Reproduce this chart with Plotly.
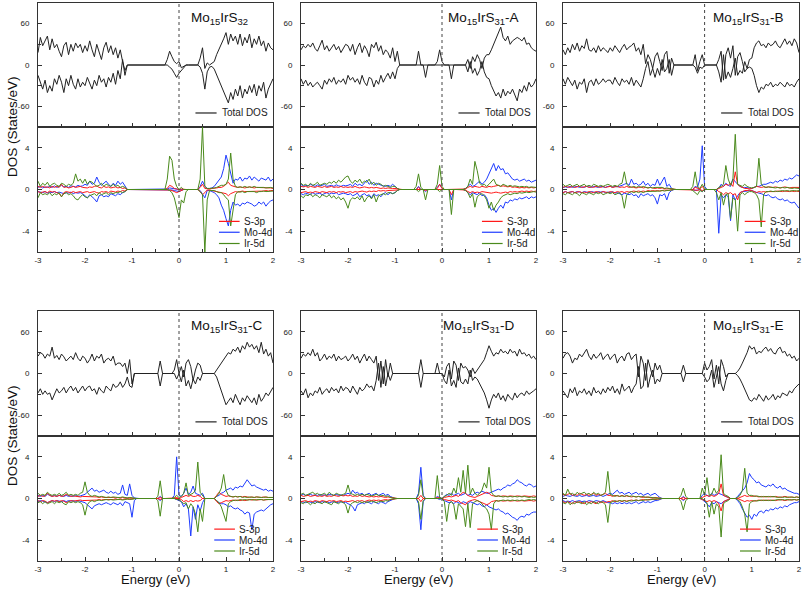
import plotly.graph_objects as go

# Energy grid (eV)
E = [round(-3 + 0.05 * i, 2) for i in range(101)]

titles = ["Mo<sub>15</sub>IrS<sub>32</sub>", "Mo<sub>15</sub>IrS<sub>31</sub>-A", "Mo<sub>15</sub>IrS<sub>31</sub>-B",
          "Mo<sub>15</sub>IrS<sub>31</sub>-C", "Mo<sub>15</sub>IrS<sub>31</sub>-D", "Mo<sub>15</sub>IrS<sub>31</sub>-E"]
x_ticks = [-3, -2, -1, 0, 1, 2]
top_ticks = [-60, 0, 60]
bot_ticks = [-4, 0, 4]

# ---------------- Panel 1: Mo15IrS32 ----------------
U1 = [18,40,28,35,42,22,38,25,30,20,12,28,33,15,30,20,32,25,30,18,
      28,20,35,22,12,30,20,8,25,33,18,28,15,25,10,22,5,-8,0,0,
      0,0,0,0,0,0,0,0,0,0,0,0,0,0,0,8,20,12,5,2,
      5,-4,-2,0,0,0,0,0,0,10,25,-5,3,0,2,5,15,22,30,38,
      47,30,45,35,42,30,45,28,40,32,45,25,38,30,42,28,35,20,32,25,22]
D1 = [-15,-25,-35,-22,-40,-30,-38,-20,-28,-15,-25,-40,-20,-30,-15,-28,-35,-20,-32,-25,
      -30,-18,-28,-35,-22,-30,-15,-25,-20,-32,-18,-25,-12,-28,-8,-20,8,-15,0,0,
      0,0,0,0,0,0,0,0,0,0,0,0,0,0,0,0,-3,-6,-12,-18,
      -12,-8,-3,0,0,0,0,0,0,-3,-12,-35,-10,-3,-2,-6,-14,-22,-30,-38,
      -48,-55,-40,-50,-35,-45,-30,-48,-35,-42,-30,-40,-28,-45,-30,-38,-25,-48,-35,-28,-20]
SU1 = [0.3,0.2,0.3,0.2,0.25,0.15,0.3,0.2,0.3,0.2,0.5,0.2,0.25,0.15,0.2,0.3,0.2,0.25,0.3,0.2,
       0.2,0.15,0.25,0.2,0.3,0.35,0.2,0.15,0.3,0.2,0.25,0.15,0.2,0.25,0.15,0.2,0.1,0.15,0,0,
       0,0,0,0,0,0,0,0,0,0,0,0,0,0,0,0.1,0.4,0.3,0.1,0.05,
       0,0.05,0,0,0,0,0,0,0,0.2,0.5,0.1,0.05,0.05,0.1,0.1,0.15,0.2,0.2,0.3,
       0.5,0.7,0.4,0.3,0.25,0.2,0.25,0.2,0.15,0.2,0.25,0.2,0.15,0.2,0.2,0.15,0.2,0.15,0.2,0.15,0.1]
SD1 = [-0.2,-0.3,-0.25,-0.2,-0.3,-0.15,-0.25,-0.2,-0.3,-0.4,-0.7,-0.3,-0.2,-0.25,-0.3,-0.2,-0.3,-0.25,-0.2,-0.3,
       -0.25,-0.2,-0.3,-0.25,-0.2,-0.3,-0.35,-0.2,-0.25,-0.2,-0.3,-0.15,-0.2,-0.25,-0.15,-0.2,-0.1,-0.15,0,0,
       0,0,0,0,0,0,0,0,0,0,0,0,0,0,0,0,-0.05,-0.1,-0.2,-0.3,
       -0.2,-0.1,0,0,0,0,0,0,0,-0.2,-0.5,-0.3,-0.05,-0.05,-0.1,-0.1,-0.15,-0.2,-0.25,-0.3,
       -0.4,-0.6,-0.4,-0.3,-0.2,-0.25,-0.2,-0.15,-0.2,-0.2,-0.15,-0.2,-0.15,-0.2,-0.15,-0.2,-0.15,-0.1,-0.15,-0.1,-0.1]
MU1 = [0.2,0.3,0.15,0.25,0.2,0.3,0.2,0.35,0.2,0.3,0.4,0.25,0.3,0.2,0.35,0.3,0.25,0.4,0.3,0.35,
       0.5,0.4,0.8,0.5,0.6,1.2,0.7,0.4,0.6,0.8,0.5,0.3,0.6,0.4,0.8,0.5,0.7,0.3,0,0,
       0,0,0,0,0,0,0,0,0,0,0,0,0,0,0,0.05,0.15,0.1,0.05,0.05,
       0,0,0,0,0,0,0,0,0,0.3,0.8,0.3,0.1,0.1,0.15,0.3,0.6,0.8,1.2,2.0,
       3.3,2.5,1.5,0.6,1.0,0.9,1.2,0.8,1.1,1.0,1.3,0.9,1.2,1.0,0.8,1.1,1.0,0.9,1.2,0.8,1.0]
MD1 = [-0.2,-0.25,-0.3,-0.2,-0.35,-0.25,-0.3,-0.2,-0.3,-0.25,-0.3,-0.4,-0.3,-0.35,-0.25,-0.4,-0.3,-0.35,-0.3,-0.4,
       -0.6,-0.8,-0.5,-0.7,-0.9,-1.2,-0.6,-0.5,-0.7,-0.6,-0.7,-0.4,-0.5,-0.6,-0.4,-0.5,-0.3,-0.2,0,0,
       0,0,0,0,0,0,0,0,0,0,0,0,0,0,0,0,0,-0.05,-0.1,-0.15,
       -0.2,-0.1,0,0,0,0,0,0,0,-0.1,-0.5,-0.8,-0.1,-0.1,-0.2,-0.3,-0.5,-0.8,-1.5,-2.0,
       -2.8,-3.5,-2.0,-1.2,-1.5,-1.4,-1.6,-1.3,-1.4,-1.2,-1.3,-1.4,-1.6,-1.5,-1.2,-1.4,-1.2,-1.6,-1.3,-1.1,-1.0]
IU1 = [0.8,0.3,0.6,0.4,0.7,0.3,0.5,0.6,0.4,0.3,0.6,0.5,0.3,0.5,0.4,0.6,1.5,0.8,1.0,0.6,
       1.0,0.5,0.8,0.7,0.5,0.3,0.4,0.6,0.3,0.5,0.4,0.3,0.5,0.3,0.4,0.2,0.3,0.2,0,0,
       0,0,0,0,0,0,0,0,0,0,0,0,0,0,0,1.0,3.2,2.8,1.0,0.3,
       0,0.2,0,0,0,0,0,0,0,1.0,6.0,0.3,0.1,0.1,0.1,0.15,0.2,0.3,0.4,0.4,
       0.5,1.0,3.5,1.0,0.3,0.2,0.25,0.2,0.3,0.2,0.25,0.2,0.3,0.2,0.2,0.25,0.2,0.15,0.2,0.2,0.15]
ID1 = [-0.8,-0.3,-0.5,-0.4,-0.5,-0.3,-0.6,-0.4,-0.5,-0.3,-0.7,-0.4,-0.3,-0.5,-0.4,-0.6,-0.9,-1.0,-0.7,-0.5,
       -0.7,-0.8,-0.6,-0.5,-0.4,-0.6,-0.3,-0.5,-0.4,-0.3,-0.5,-0.3,-0.4,-0.3,-0.3,-0.2,-0.3,-0.2,0,0,
       0,0,0,0,0,0,0,0,0,0,0,0,0,0,0,0,-0.1,-0.3,-0.8,-1.8,
       -2.7,-1.0,-1.3,-0.2,0,0,0,0,0,-0.2,-0.5,-6.0,-1.0,-0.1,-0.1,-0.1,-0.2,-0.3,-0.3,-0.5,
       -0.8,-1.0,-3.5,-2.0,-0.5,-0.2,-0.25,-0.2,-0.3,-0.2,-0.2,-0.25,-0.2,-0.3,-0.2,-0.2,-0.15,-0.2,-0.2,-0.15,-0.15]

# ---------------- Panel 2: Mo15IrS31-A ----------------
U2 = [22,28,25,30,26,32,24,20,28,36,22,28,20,25,30,22,27,18,25,30,
      28,20,30,15,25,32,18,28,22,12,30,25,33,20,28,15,22,18,10,25,
      5,20,0,0,0,0,0,0,0,0,20,0,0,0,0,0,0,0,5,22,
      5,0,0,0,0,0,0,0,0,0,0,8,-5,12,5,15,8,-5,10,15,
      15,22,30,38,45,55,40,35,42,30,35,38,40,38,35,40,30,32,25,22,20]
D2 = [-20,-28,-22,-30,-25,-32,-28,-25,-30,-35,-22,-28,-20,-25,-18,-28,-22,-25,-20,-28,
      -15,-22,-18,-25,-20,-28,-15,-25,-30,-18,-20,-32,-22,-28,-15,-25,-18,-12,-20,-10,
      -20,-5,0,0,0,0,0,0,0,0,0,0,0,-18,0,0,0,0,0,0,
      0,0,0,0,-20,0,0,0,0,0,0,-10,5,-12,-5,-15,-8,5,-10,-18,
      -20,-30,-38,-45,-40,-48,-35,-45,-38,-42,-35,-45,-52,-35,-40,-30,-38,-25,-32,-28,-20]
SU2 = [0.3,0.25,0.3,0.2,0.3,0.25,0.2,0.3,0.25,0.2,0.3,0.2,0.25,0.3,0.2,0.25,0.2,0.3,0.2,0.25,
       0.2,0.25,0.2,0.3,0.2,0.15,0.2,0.25,0.2,0.15,0.2,0.15,0.2,0.15,0.1,0.15,0.1,0.15,0.1,0.1,
       0.1,0.05,0,0,0,0,0,0,0,0,0.2,0,0,0,0,0,0,0,0.1,0.5,
       0.1,0,0,0,0,0,0,0,0,0,0.05,0.2,0.3,0.2,0.3,0.25,0.2,0.3,0.25,0.2,
       0.3,0.25,0.3,0.35,0.4,0.3,0.35,0.3,0.25,0.3,0.2,0.25,0.2,0.15,0.2,0.15,0.2,0.15,0.2,0.15,0.2]
SD2 = [-0.3,-0.25,-0.2,-0.3,-0.25,-0.3,-0.2,-0.25,-0.3,-0.2,-0.25,-0.3,-0.2,-0.25,-0.2,-0.3,-0.2,-0.25,-0.2,-0.3,
       -0.25,-0.2,-0.3,-0.2,-0.25,-0.2,-0.15,-0.2,-0.25,-0.15,-0.2,-0.15,-0.2,-0.1,-0.15,-0.1,-0.15,-0.1,-0.1,-0.1,
       -0.1,-0.05,0,0,0,0,0,0,0,0,0,0,0,-0.1,0,0,0,0,0,0,
       0,0,0,0,-0.5,0,0,0,0,0,-0.05,-0.2,-0.3,-0.2,-0.3,-0.25,-0.3,-0.2,-0.25,-0.3,
       -0.3,-0.35,-0.3,-0.25,-0.3,-0.35,-0.3,-0.25,-0.3,-0.2,-0.25,-0.2,-0.25,-0.2,-0.15,-0.2,-0.15,-0.2,-0.15,-0.2,-0.15]
MU2 = [0.5,0.3,0.4,0.35,0.5,0.4,0.3,0.45,0.35,0.4,0.5,0.3,0.35,0.4,0.3,0.45,0.35,0.3,0.4,0.35,
       0.4,0.5,0.3,0.6,0.4,0.5,0.35,0.6,0.9,0.5,0.7,0.4,0.6,0.5,0.4,0.35,0.3,0.4,0.3,0.5,
       0.3,0.1,0,0,0,0,0,0,0,0,0.3,0,0,0,0,0,0,0,0.2,0.5,
       0.1,0,0,0,0,0,0,0,0,0,0.1,0.3,0.5,0.3,0.4,0.6,0.8,0.5,0.7,1.0,
       1.5,2.0,2.5,1.8,2.3,1.9,2.0,1.5,1.6,1.3,1.0,0.9,1.0,0.8,0.9,1.0,0.8,0.9,0.7,0.8,0.9]
MD2 = [-0.4,-0.5,-0.35,-0.4,-0.5,-0.3,-0.45,-0.4,-0.35,-0.5,-0.4,-0.3,-0.45,-0.35,-0.4,-0.3,-0.5,-0.4,-0.35,-0.4,
       -0.5,-0.4,-0.6,-0.5,-0.35,-0.7,-0.5,-0.4,-0.6,-0.5,-0.8,-0.4,-0.6,-0.5,-0.7,-0.4,-0.3,-0.5,-0.3,-0.4,
       -0.3,-0.1,0,0,0,0,0,0,0,0,0,0,0,-0.2,0,0,0,0,0,0,
       0,0,0,0,-1.0,0,0,0,0,0,-0.1,-0.3,-0.5,-0.3,-0.4,-0.5,-0.3,-0.6,-0.5,-0.8,
       -1.5,-2.0,-1.8,-2.2,-1.8,-1.5,-1.8,-1.2,-1.3,-1.0,-1.1,-0.9,-1.0,-0.8,-0.9,-0.8,-0.7,-0.9,-0.7,-0.8,-0.7]
IU2 = [0.6,0.4,0.5,0.3,0.6,0.4,0.5,0.7,0.4,0.5,0.6,0.5,0.7,0.6,0.8,0.6,0.9,0.7,1.0,1.2,
       1.3,0.8,0.6,0.9,0.7,1.0,0.6,0.8,0.7,1.0,0.5,0.7,0.4,0.6,0.5,0.3,0.4,0.3,0.2,0.3,
       0.3,0.1,0,0,0,0,0,0,0,0.3,1.5,0.2,0,0,0,0,0,0,0.5,2.3,
       0.3,0,0,0,0,0,0,0,0,0,0.1,0.3,1.0,0.5,2.7,1.8,0.6,0.4,0.5,0.3,
       0.5,0.8,1.0,0.5,0.4,0.3,0.5,0.4,0.3,0.4,0.3,0.35,0.3,0.25,0.3,0.25,0.3,0.2,0.25,0.2,0.2]
ID2 = [-0.6,-0.8,-0.5,-0.6,-0.4,-0.7,-0.5,-0.6,-0.8,-0.5,-0.6,-0.7,-0.5,-0.8,-0.6,-0.9,-0.7,-1.0,-0.8,-1.2,
       -1.8,-1.0,-0.8,-0.9,-0.7,-1.0,-0.6,-1.2,-0.8,-0.6,-0.9,-0.5,-1.2,-0.6,-0.5,-0.4,-0.5,-0.3,-0.3,-0.4,
       -0.3,-0.1,0,0,0,0,0,0,0,0,-0.2,0,0,-1.0,0,0,0,0,0,-0.2,
       0,0,0,0,-2.4,0,0,0,0,0,-0.1,-0.3,-0.8,-0.4,-1.7,-0.7,-0.5,-0.4,-0.6,-1.0,
       -1.8,-1.2,-2.0,-1.5,-1.2,-0.8,-0.6,-0.5,-0.4,-0.5,-0.4,-0.35,-0.4,-0.3,-0.35,-0.3,-0.25,-0.3,-0.25,-0.2,-0.25]

# ---------------- Panel 3: Mo15IrS31-B ----------------
U3 = [22,15,25,18,30,22,32,20,28,24,38,22,20,25,18,28,20,25,22,18,
      25,20,28,22,18,25,30,22,26,28,32,20,25,15,30,2,15,8,-5,12,
      18,5,-8,15,20,-12,10,0,0,0,0,0,0,0,0,0,15,-8,5,15,
      0,0,0,0,0,0,8,20,-22,15,25,10,28,-15,12,18,5,-10,-5,8,
      10,25,32,35,28,30,25,32,28,30,35,28,25,32,38,30,35,28,38,32,18]
D3 = [-20,-28,-18,-25,-30,-22,-35,-25,-28,-20,-40,-25,-22,-30,-20,-28,-25,-20,-25,-22,
      -22,-28,-18,-25,-30,-20,-25,-22,-28,-18,-30,-22,-28,-32,-20,-5,5,-15,-5,-18,
      -5,-15,8,-10,-5,8,-15,0,0,0,0,0,0,0,0,0,-3,-12,-3,-5,
      0,0,0,0,0,0,-10,-25,15,-20,-10,-18,-5,10,-15,-8,-12,5,-5,-3,
      -5,-15,-30,-40,-32,-35,-28,-30,-25,-32,-28,-30,-25,-28,-32,-25,-30,-28,-32,-25,-20]
SU3 = [0.2,0.3,0.25,0.2,0.3,0.2,0.25,0.3,0.2,0.25,0.3,0.2,0.25,0.2,0.3,0.25,0.2,0.3,0.2,0.25,
       0.3,0.2,0.25,0.3,0.2,0.25,0.2,0.3,0.2,0.25,0.2,0.15,0.2,0.25,0.15,0.2,0.15,0.2,0.15,0.1,
       0.15,0.1,0.15,0.1,0.05,0.1,0.05,0,0,0,0,0,0,0,0,0,0.2,0.1,0.05,0.3,
       0,0,0,0,0,0,0.1,0.2,0.3,0.5,0.4,0.6,0.3,1.7,0.5,0.3,0.2,0.1,0.1,0.05,
       0.1,0.2,0.3,0.25,0.2,0.25,0.2,0.25,0.2,0.2,0.25,0.2,0.15,0.2,0.25,0.2,0.15,0.2,0.2,0.15,0.2]
SD3 = [-0.3,-0.2,-0.3,-0.25,-0.2,-0.3,-0.25,-0.2,-0.3,-0.25,-0.3,-0.2,-0.25,-0.3,-0.2,-0.25,-0.3,-0.2,-0.25,-0.3,
       -0.2,-0.25,-0.3,-0.2,-0.25,-0.2,-0.3,-0.2,-0.25,-0.2,-0.15,-0.2,-0.15,-0.2,-0.15,-0.2,-0.1,-0.15,-0.1,-0.15,
       -0.1,-0.15,-0.1,-0.05,-0.1,-0.05,-0.05,0,0,0,0,0,0,0,0,0,-0.05,-0.1,0,-0.1,
       0,0,0,0,0,0,-0.2,-0.3,-0.5,-0.3,-0.4,-0.3,-0.5,-0.4,-1.0,-0.3,-0.2,-0.1,-0.1,-0.05,
       -0.1,-0.2,-0.3,-0.2,-0.25,-0.2,-0.25,-0.2,-0.2,-0.25,-0.2,-0.15,-0.2,-0.2,-0.15,-0.2,-0.2,-0.15,-0.2,-0.15,-0.2]
MU3 = [0.2,0.25,0.2,0.3,0.2,0.25,0.3,0.2,0.25,0.2,0.3,0.25,0.2,0.3,0.25,0.2,0.3,0.25,0.2,0.3,
       0.3,0.2,0.3,0.25,0.3,0.4,0.5,0.6,0.4,1.0,0.5,0.6,0.4,0.5,0.8,0.4,0.6,0.3,0.5,0.4,
       1.0,0.4,0.8,1.2,0.3,0.5,0.1,0,0,0,0,0,0,0,0,0,0.3,0.2,1.0,4.2,
       0.3,0,0,0,0,0,0.1,0.5,0.3,0.6,0.4,0.3,1.0,0.7,0.5,0.3,0.2,0.2,0.15,0.1,
       0.1,0.2,0.3,0.3,0.4,0.5,0.5,0.6,0.7,0.6,0.8,0.7,0.9,0.8,1.0,0.9,1.1,1.0,1.2,1.4,1.3]
MD3 = [-0.3,-0.2,-0.3,-0.25,-0.2,-0.3,-0.2,-0.25,-0.3,-0.2,-0.25,-0.3,-0.2,-0.25,-0.3,-0.2,-0.25,-0.2,-0.3,-0.25,
       -0.3,-0.2,-0.35,-0.3,-0.4,-0.5,-0.35,-0.4,-0.5,-0.4,-0.6,-0.5,-0.8,-0.4,-0.6,-0.5,-0.4,-0.6,-0.5,-0.8,
       -1.4,-0.5,-0.6,-0.4,-1.0,-0.3,-0.1,0,0,0,0,0,0,0,0,0,-0.1,-0.05,0,-0.2,
       0,0,0,0,0,0,-4.2,-0.5,-0.8,-0.5,-0.7,-3.0,-0.5,-1.0,-0.6,-0.3,-0.2,-0.2,-0.15,-0.1,
       -0.1,-0.2,-0.3,-0.35,-0.4,-0.5,-0.6,-0.5,-0.7,-0.8,-0.7,-0.9,-1.0,-0.9,-1.1,-1.0,-1.2,-1.3,-1.2,-1.5,-1.8]
IU3 = [0.5,0.3,0.4,0.5,0.3,0.4,0.5,0.3,0.4,0.5,0.3,0.4,0.3,0.5,0.4,0.3,0.4,0.3,0.4,0.5,
       0.4,0.3,0.4,0.3,0.5,0.6,1.7,0.5,0.3,0.2,0.3,0.2,0.3,0.2,0.3,0.2,0.15,0.2,0.15,0.2,
       0.2,0.15,0.2,0.1,0.15,0.1,0.05,0,0,0,0,0,0,0,0,0.3,1.7,0.3,0.1,0.5,
       0.1,0,0,0,0,0,0.2,0.3,0.5,2.3,1.0,0.4,1.0,5.3,0.5,0.4,0.3,0.5,0.3,0.2,
       0.15,0.2,0.3,3.0,0.5,0.3,0.2,0.25,0.2,0.2,0.15,0.2,0.15,0.2,0.15,0.2,0.15,0.1,0.15,0.1,0.1]
ID3 = [-0.4,-0.5,-0.3,-0.4,-0.5,-0.3,-0.4,-0.6,-0.3,-0.4,-0.5,-0.3,-0.4,-0.5,-0.3,-0.4,-0.3,-0.5,-0.4,-0.3,
       -0.4,-0.3,-0.5,-0.4,-0.3,-0.6,-1.8,-0.5,-0.3,-0.2,-0.3,-0.2,-0.3,-0.2,-0.3,-0.2,-0.2,-0.15,-0.2,-0.15,
       -0.2,-0.15,-0.1,-0.15,-0.1,-0.1,-0.05,0,0,0,0,0,0,0,0,-0.1,-0.3,-0.5,-0.1,-0.2,
       0,0,0,0,0,-0.3,-1.0,-0.3,-1.5,-0.5,-0.4,-2.8,-0.8,-1.0,-4.0,-0.5,-0.3,-0.5,-0.3,-0.2,
       -0.2,-0.3,-0.5,-1.0,-3.6,-0.5,-0.2,-0.2,-0.15,-0.2,-0.15,-0.2,-0.15,-0.1,-0.15,-0.1,-0.15,-0.1,-0.1,-0.15,-0.1]

# ---------------- Panel 4: Mo15IrS31-C ----------------
U4 = [25,30,28,22,28,25,38,22,26,20,28,24,18,22,25,20,30,22,18,25,
      22,15,20,28,18,25,22,28,15,20,22,18,25,12,15,15,10,15,0,20,
      -15,0,0,0,0,0,0,0,0,0,0,0,18,0,0,0,0,0,5,20,
      0,10,-5,15,20,10,-10,5,15,12,0,0,0,0,0,0,5,10,15,20,
      25,30,28,35,32,38,30,40,35,45,38,42,35,40,30,45,28,35,25,30,15]
D4 = [-28,-22,-30,-25,-30,-28,-38,-30,-22,-28,-25,-20,-28,-22,-18,-25,-20,-28,-22,-18,
      -25,-20,-18,-25,-22,-30,-20,-25,-28,-18,-22,-25,-15,-20,-18,-12,-20,-15,-5,-18,
      -20,0,0,0,0,0,0,0,0,0,0,0,-18,0,0,0,0,0,0,-8,
      0,-12,5,-18,-10,-22,-8,-15,-5,-10,0,0,0,0,0,0,-5,-15,-25,-35,
      -45,-40,-35,-42,-30,-38,-45,-35,-40,-32,-38,-42,-35,-45,-30,-40,-35,-28,-32,-25,-20]
SU4 = [0.2,0.3,0.2,0.25,0.5,0.3,0.2,0.25,0.2,0.3,0.2,0.25,0.4,0.3,0.2,0.25,0.2,0.2,0.15,0.2,
       0.2,0.15,0.2,0.15,0.2,0.15,0.1,0.15,0.1,0.1,0.15,0.1,0.1,0.05,0.1,0.05,0.1,0.05,0.05,0.1,
       0.05,0,0,0,0,0,0,0,0,0,0,0,0.1,0,0,0,0,0,0.05,0.1,
       0,0.1,0.2,0.3,0.2,0.3,0.2,0.2,0.3,0.2,0,0,0,0,0,0,0.3,0.6,0.4,0.3,
       0.2,0.25,0.2,0.15,0.2,0.15,0.2,0.15,0.2,0.15,0.1,0.15,0.1,0.15,0.1,0.1,0.15,0.1,0.1,0.1,0.1]
SD4 = [-0.2,-0.3,-0.2,-0.25,-0.4,-0.3,-0.2,-0.25,-0.2,-0.3,-0.2,-0.25,-0.4,-0.3,-0.2,-0.25,-0.2,-0.2,-0.15,-0.2,
       -0.2,-0.15,-0.2,-0.15,-0.2,-0.15,-0.1,-0.15,-0.1,-0.1,-0.15,-0.1,-0.1,-0.05,-0.1,-0.05,-0.1,-0.05,-0.05,-0.1,
       -0.05,0,0,0,0,0,0,0,0,0,0,0,-0.1,0,0,0,0,0,0,-0.05,
       0,-0.1,-0.3,-0.2,-0.3,-0.2,-0.3,-0.2,-0.25,-0.2,0,0,0,0,0,0,-0.3,-0.5,-0.4,-0.3,
       -0.2,-0.25,-0.2,-0.15,-0.2,-0.15,-0.2,-0.15,-0.2,-0.15,-0.1,-0.15,-0.1,-0.15,-0.1,-0.1,-0.15,-0.1,-0.1,-0.1,-0.1]
MU4 = [0.3,0.2,0.3,0.2,0.4,0.3,0.2,0.3,0.2,0.3,0.25,0.2,0.3,0.2,0.25,0.2,0.3,0.2,0.25,0.3,
       0.4,0.6,0.8,1.0,0.7,0.8,0.6,0.7,0.8,0.6,0.5,0.7,0.5,0.6,0.4,0.5,1.3,0.4,0.3,1.4,
       0.3,0.05,0,0,0,0,0,0,0,0,0,0,0.2,0,0,0,0,0,0.3,4.0,
       0.3,0.2,0.5,1.0,0.4,0.6,1.2,0.5,0.4,0.3,0.5,0,0,0,0,0,0.2,0.3,0.5,0.6,
       0.8,0.9,1.0,0.8,1.1,1.0,1.2,1.1,1.4,1.8,1.5,1.2,1.3,1.1,1.0,0.9,0.8,0.9,0.7,0.8,0.7]
MD4 = [-0.3,-0.2,-0.25,-0.3,-0.4,-0.3,-0.2,-0.3,-0.2,-0.25,-0.3,-0.2,-0.3,-0.2,-0.25,-0.2,-0.3,-0.2,-0.25,-0.3,
       -0.4,-0.6,-0.8,-1.0,-0.7,-0.6,-0.5,-0.6,-0.5,-0.4,-0.5,-0.6,-0.4,-0.5,-0.6,-0.4,-0.7,-0.3,-0.4,-0.5,
       -1.8,-0.2,0,0,0,0,0,0,0,0,0,0,-0.2,0,0,0,0,0,0,-0.1,
       -0.2,-0.3,-0.8,-0.5,-1.0,-3.6,-0.8,-2.0,-0.6,-1.2,-0.4,0,0,0,0,0,-0.2,-0.4,-0.5,-0.5,
       -0.6,-0.8,-0.7,-0.9,-1.0,-0.9,-1.1,-1.2,-1.5,-1.3,-1.4,-3.0,-1.5,-1.3,-1.2,-1.1,-1.2,-1.0,-0.8,-0.6,-0.5]
IU4 = [0.5,0.3,0.4,0.3,0.6,0.4,0.3,0.4,0.3,0.5,0.3,0.4,0.6,0.3,0.4,0.3,0.4,0.3,0.5,0.6,
       1.6,0.6,0.3,0.2,0.3,0.2,0.15,0.2,0.15,0.1,0.15,0.1,0.15,0.1,0.1,0.1,0.15,0.1,0.05,0.1,
       0.05,0,0,0,0,0,0,0,0,0,0,0.2,1.7,0,0,0,0,0,0.1,0.3,
       0.1,0.2,0.5,1.5,0.3,0.4,0.5,0.8,3.5,0.6,0.3,0,0,0,0,0,0.2,0.5,1.0,2.3,
       0.8,0.3,0.2,0.15,0.2,0.15,0.2,0.1,0.15,0.1,0.15,0.1,0.1,0.15,0.1,0.1,0.1,0.15,0.1,0.1,0.1]
ID4 = [-0.4,-0.3,-0.5,-0.3,-0.5,-0.4,-0.3,-0.5,-0.3,-0.4,-0.3,-0.5,-0.6,-0.3,-0.4,-0.3,-0.4,-0.3,-0.4,-0.6,
       -1.6,-0.6,-0.3,-0.2,-0.3,-0.2,-0.15,-0.2,-0.15,-0.1,-0.15,-0.1,-0.15,-0.1,-0.1,-0.1,-0.15,-0.1,-0.05,-0.1,
       -0.05,0,0,0,0,0,0,0,0,0,0,-0.2,-1.7,0,0,0,0,0,0,-0.1,
       -0.1,-0.3,-0.5,-0.4,-1.0,-0.5,-0.8,-1.5,-3.2,-1.0,-2.2,0,0,0,0,0,-0.2,-0.4,-0.8,-1.5,
       -2.2,-0.5,-0.3,-0.2,-0.15,-0.2,-0.1,-0.15,-0.1,-0.15,-0.1,-0.1,-0.15,-0.1,-0.1,-0.1,-0.15,-0.1,-0.1,-0.1,-0.1]

# ---------------- Panel 5: Mo15IrS31-D ----------------
U5 = [22,28,25,30,26,35,25,30,18,22,28,20,25,22,28,18,25,20,22,25,
      18,22,28,20,25,15,22,28,18,25,20,15,25,-10,18,-15,20,-5,15,0,
      0,0,0,0,0,0,0,0,0,0,0,20,0,0,0,0,0,0,15,0,
      0,-5,10,15,-8,18,12,-10,15,8,10,5,-5,8,0,5,10,15,20,30,
      40,32,25,30,28,35,30,32,28,35,30,32,25,35,28,30,25,28,22,25,20]
D5 = [-25,-30,-22,-35,-28,-32,-25,-28,-20,-30,-25,-22,-28,-20,-25,-22,-28,-18,-25,-20,
      -22,-28,-18,-25,-30,-20,-25,-22,-15,-20,-18,-25,-10,15,-20,10,-18,0,-10,0,
      0,0,0,0,0,0,0,0,0,0,0,-20,0,0,0,0,0,0,0,0,
      0,-10,-15,5,-18,-10,-20,8,-12,-15,-8,-15,5,-10,-5,-8,-15,-20,-28,-38,
      -50,-38,-30,-35,-28,-38,-32,-40,-30,-35,-38,-28,-35,-30,-28,-32,-25,-30,-28,-25,-22]
SU5 = [0.3,0.2,0.25,0.3,0.2,0.25,0.3,0.2,0.25,0.2,0.3,0.2,0.25,0.2,0.3,0.25,0.2,0.3,0.25,0.3,
       0.25,0.3,0.2,0.25,0.2,0.3,0.2,0.25,0.2,0.15,0.2,0.15,0.2,0.15,0.2,0.15,0.1,0.15,0.1,0.05,
       0,0,0,0,0,0,0,0,0,0,0,0.3,0,0,0,0,0,0,0.1,0.05,
       0,0.1,0.15,0.2,0.15,0.2,0.3,0.2,0.4,0.6,0.5,0.3,0.2,0.15,0.1,0.2,0.3,0.4,0.5,0.6,
       0.5,0.3,0.25,0.2,0.25,0.2,0.25,0.2,0.2,0.25,0.2,0.2,0.25,0.2,0.2,0.25,0.2,0.2,0.2,0.25,0.2]
SD5 = [-0.3,-0.25,-0.2,-0.3,-0.25,-0.3,-0.2,-0.25,-0.3,-0.2,-0.25,-0.3,-0.2,-0.25,-0.2,-0.3,-0.25,-0.2,-0.3,-0.25,
       -0.3,-0.25,-0.2,-0.3,-0.2,-0.25,-0.2,-0.3,-0.2,-0.15,-0.2,-0.15,-0.2,-0.15,-0.2,-0.15,-0.1,-0.15,-0.1,-0.05,
       0,0,0,0,0,0,0,0,0,0,0,-0.3,0,0,0,0,0,0,0,0,
       0,-0.1,-0.15,-0.2,-0.15,-0.2,-0.3,-0.2,-0.4,-0.5,-0.6,-0.3,-0.2,-0.15,-0.1,-0.2,-0.3,-0.4,-0.5,-0.6,
       -0.5,-0.3,-0.25,-0.2,-0.25,-0.2,-0.25,-0.2,-0.2,-0.25,-0.2,-0.2,-0.25,-0.2,-0.2,-0.25,-0.2,-0.2,-0.2,-0.25,-0.2]
MU5 = [0.3,0.4,0.3,0.35,0.4,0.3,0.35,0.3,0.4,0.3,0.35,0.3,0.4,0.35,0.3,0.4,0.3,0.35,0.3,0.4,
       0.5,0.4,0.8,0.5,0.6,0.4,0.5,0.3,0.4,0.5,0.3,0.4,0.5,0.3,0.4,0.5,0.3,0.4,0.2,0.1,
       0,0,0,0,0,0,0,0,0,0,0.5,3.0,0.3,0,0,0,0,0,0.2,0.1,
       0,0.2,0.4,0.3,0.5,0.3,0.4,0.5,0.3,0.4,0.5,0.3,0.4,0.3,0.5,0.6,0.5,0.7,0.6,0.5,
       0.5,0.6,0.7,0.8,0.9,0.8,1.0,1.1,1.3,1.2,1.4,1.5,1.8,1.6,1.5,1.3,1.2,1.4,1.3,1.1,1.2]
MD5 = [-0.3,-0.35,-0.4,-0.3,-0.35,-0.4,-0.3,-0.35,-0.4,-0.3,-0.35,-0.3,-0.4,-0.35,-0.3,-0.4,-0.35,-0.3,-0.4,-0.35,
       -0.5,-0.6,-0.8,-1.2,-0.6,-0.5,-0.4,-0.5,-0.3,-0.4,-0.5,-0.3,-0.4,-0.5,-0.3,-0.4,-0.5,-0.3,-0.2,-0.1,
       0,0,0,0,0,0,0,0,0,0,-0.5,-3.0,-0.3,0,0,0,0,0,0,-0.1,
       0,-0.2,-0.3,-0.4,-0.3,-0.5,-0.3,-0.4,-0.5,-0.3,-0.4,-0.5,-0.3,-0.4,-0.5,-0.6,-0.5,-0.7,-0.8,-0.6,
       -0.8,-0.9,-1.0,-1.1,-1.0,-1.2,-1.3,-1.5,-1.4,-1.6,-1.8,-1.9,-2.1,-1.8,-1.7,-1.8,-1.5,-1.6,-1.4,-1.3,-1.3]
IU5 = [0.4,0.5,0.3,0.4,0.5,0.6,0.4,0.5,0.3,0.4,0.5,0.3,0.6,0.4,0.3,0.5,0.4,0.3,0.4,0.5,
       1.3,0.5,0.4,0.3,0.4,0.3,0.4,0.3,0.4,0.3,0.25,0.3,0.4,0.3,0.25,0.3,0.2,0.25,0.1,0.05,
       0,0,0,0,0,0,0,0,0,0,0.3,1.8,0.2,0,0,0,0,0,2.2,0.1,
       0,0.2,0.3,0.5,0.3,1.0,0.5,2.0,0.6,2.7,0.5,3.2,0.4,1.0,0.5,0.3,0.5,0.8,1.5,1.0,
       3.0,0.6,0.3,0.2,0.25,0.2,0.15,0.2,0.15,0.2,0.15,0.2,0.15,0.2,0.15,0.2,0.15,0.1,0.15,0.1,0.15]
ID5 = [-0.4,-0.5,-0.3,-0.4,-0.6,-0.4,-0.5,-0.3,-0.4,-0.5,-0.3,-0.4,-0.5,-0.6,-0.3,-0.4,-0.5,-0.3,-0.4,-0.6,
       -1.4,-0.6,-0.4,-0.3,-0.4,-0.3,-0.4,-0.3,-0.4,-0.3,-0.25,-0.3,-0.4,-0.3,-0.25,-0.3,-0.2,-0.25,-0.1,-0.05,
       0,0,0,0,0,0,0,0,0,0,-0.3,-2.0,-0.2,0,0,0,0,0,0,0,
       0,-0.3,-2.2,-0.5,-0.3,-0.6,-2.0,-0.5,-0.8,-1.0,-2.7,-0.5,-2.8,-0.5,-0.3,-0.2,-0.3,-0.5,-0.8,-1.0,
       -1.5,-3.0,-0.5,-0.2,-0.25,-0.2,-0.15,-0.2,-0.15,-0.2,-0.15,-0.2,-0.15,-0.2,-0.15,-0.2,-0.15,-0.1,-0.15,-0.1,-0.15]

# ---------------- Panel 6: Mo15IrS31-E ----------------
U6 = [22,28,30,25,15,22,20,28,24,30,35,25,20,28,22,25,30,20,25,28,
      20,25,28,15,22,25,18,28,30,20,25,28,-5,25,15,-10,20,8,-5,15,
      5,12,0,0,0,0,0,0,0,0,0,12,0,0,0,0,0,0,0,0,
      15,5,10,20,-8,12,-15,20,10,-5,0,0,0,0,3,8,15,22,30,40,
      35,38,28,32,30,35,38,32,36,30,28,35,38,30,32,25,28,22,25,18,22]
D6 = [-25,-30,-35,-22,-28,-20,-32,-25,-28,-22,-30,-25,-32,-20,-28,-25,-30,-22,-28,-20,
      -25,-18,-28,-22,-30,-15,-25,-22,-18,-28,-20,-15,10,-22,-18,15,-20,-5,5,-15,
      -8,-12,0,0,0,0,0,0,0,0,0,-12,0,0,0,0,0,0,0,0,
      -5,-12,-8,5,-20,-5,10,-15,-25,-10,0,0,0,0,-3,-8,-15,-22,-30,-38,
      -40,-35,-38,-30,-35,-40,-32,-38,-35,-30,-38,-32,-35,-28,-30,-32,-25,-28,-22,-18,-15]
SU6 = [0.4,0.3,0.4,0.5,0.3,0.4,0.3,0.5,0.4,0.3,0.4,0.3,0.4,0.5,0.3,0.4,0.3,0.4,0.5,0.3,
       0.3,0.2,0.3,0.25,0.2,0.3,0.2,0.25,0.2,0.15,0.2,0.15,0.2,0.15,0.1,0.15,0.1,0.1,0.05,0.1,
       0.05,0,0,0,0,0,0,0,0,0,0,0.1,0,0,0,0,0,0,0,0.1,
       0.2,0.3,0.2,0.3,0.2,0.3,0.5,1.4,0.3,0.2,0.1,0,0,0,0,0.1,0.2,0.3,0.2,0.25,
       0.2,0.25,0.2,0.15,0.2,0.15,0.2,0.15,0.2,0.15,0.2,0.15,0.1,0.15,0.2,0.15,0.1,0.15,0.1,0.15,0.1]
SD6 = [-0.3,-0.4,-0.3,-0.4,-0.5,-0.3,-0.4,-0.3,-0.4,-0.5,-0.3,-0.4,-0.3,-0.4,-0.5,-0.3,-0.4,-0.3,-0.4,-0.3,
       -0.3,-0.2,-0.3,-0.25,-0.2,-0.3,-0.2,-0.25,-0.2,-0.15,-0.2,-0.15,-0.2,-0.15,-0.1,-0.15,-0.1,-0.1,-0.05,-0.1,
       -0.05,0,0,0,0,0,0,0,0,0,0,-0.1,0,0,0,0,0,0,0,-0.1,
       -0.2,-0.3,-0.2,-0.3,-0.2,-0.3,-0.5,-1.2,-0.3,-0.2,-0.1,0,0,0,0,-0.1,-0.2,-0.3,-0.2,-0.25,
       -0.2,-0.25,-0.2,-0.15,-0.2,-0.15,-0.2,-0.15,-0.2,-0.15,-0.2,-0.15,-0.1,-0.15,-0.2,-0.15,-0.1,-0.15,-0.1,-0.15,-0.1]
MU6 = [0.2,0.3,0.25,0.2,0.3,0.25,0.2,0.3,0.2,0.25,0.3,0.2,0.25,0.3,0.2,0.25,0.3,0.2,0.3,0.4,
       0.5,0.4,0.6,0.8,0.5,0.6,0.4,0.5,0.6,0.4,0.5,0.6,0.4,0.5,0.3,0.4,0.5,0.3,0.4,0.5,
       0.3,0.1,0,0,0,0,0,0,0,0,0,0.2,0,0,0,0,0,0,0,0.3,
       0.5,0.3,0.2,0.5,0.3,0.4,0.5,0.4,0.3,0.2,0.1,0,0,0,0.2,0.5,0.8,1.0,1.5,2.4,
       2.0,1.8,1.5,1.6,1.3,1.2,1.1,1.3,1.2,1.4,1.1,1.0,1.2,0.9,1.0,0.8,0.7,0.6,0.5,0.5,0.4]
MD6 = [-0.2,-0.3,-0.25,-0.3,-0.2,-0.3,-0.25,-0.2,-0.3,-0.25,-0.3,-0.2,-0.25,-0.3,-0.2,-0.25,-0.3,-0.2,-0.3,-0.4,
       -0.4,-0.5,-0.4,-0.5,-0.4,-0.5,-0.4,-0.5,-0.4,-0.5,-0.4,-0.3,-0.5,-0.4,-0.3,-0.4,-0.3,-0.4,-0.3,-0.2,
       -0.2,-0.1,0,0,0,0,0,0,0,0,0,-0.2,0,0,0,0,0,0,0,-0.1,
       -0.3,-0.5,-0.8,-0.4,-0.5,-0.3,-0.4,-0.5,-0.3,-0.2,-0.1,0,0,0,-0.2,-0.5,-1.0,-1.4,-1.8,-1.6,
       -2.0,-1.5,-1.7,-1.3,-1.2,-1.4,-1.1,-1.2,-1.0,-1.1,-0.9,-1.0,-0.8,-0.9,-0.7,-0.8,-0.6,-0.5,-0.4,-0.4,-0.3]
IU6 = [0.5,0.3,0.9,0.4,0.5,0.3,0.6,0.4,0.5,0.6,0.4,0.5,0.3,0.6,0.4,0.5,0.3,0.4,0.6,2.6,
       0.4,0.3,0.2,0.3,0.2,0.25,0.2,0.3,0.2,0.25,0.2,0.15,0.2,0.15,0.2,0.1,0.15,0.1,0.1,0.05,
       0.05,0,0,0,0,0,0,0,0,0,0.3,1.0,0.2,0,0,0,0,0,0,1.0,
       0.3,2.0,0.3,0.4,1.0,0.5,0.8,4.2,0.5,0.3,0.2,0,0,0,0.1,0.3,0.8,2.9,0.5,0.3,
       0.3,0.2,0.25,0.2,0.15,0.2,0.15,0.2,0.15,0.2,0.15,0.1,0.15,0.1,0.15,0.1,0.15,0.1,0.1,0.15,0.1]
ID6 = [-0.4,-0.5,-0.3,-0.6,-0.4,-0.5,-0.3,-0.4,-0.5,-0.3,-0.6,-0.4,-0.5,-0.3,-0.4,-0.5,-0.3,-0.4,-0.6,-2.3,
       -0.4,-0.3,-0.2,-0.3,-0.2,-0.25,-0.2,-0.3,-0.2,-0.25,-0.2,-0.15,-0.2,-0.15,-0.2,-0.1,-0.15,-0.1,-0.1,-0.05,
       -0.05,0,0,0,0,0,0,0,0,0,-0.3,-1.1,-0.2,0,0,0,0,0,0,0,
       -0.2,-0.4,-1.8,-0.3,-1.5,-0.5,-0.8,-3.7,-0.5,-0.3,-0.2,0,0,0,-0.1,-0.3,-0.8,-1.5,-3.2,-0.5,
       -0.3,-0.2,-0.25,-0.2,-0.15,-0.2,-0.15,-0.2,-0.15,-0.2,-0.15,-0.1,-0.15,-0.1,-0.15,-0.1,-0.15,-0.1,-0.1,-0.15,-0.1]

panels = [
    dict(up=U1, dn=D1, su=SU1, sd=SD1, mu=MU1, md=MD1, iu=IU1, id=ID1),
    dict(up=U2, dn=D2, su=SU2, sd=SD2, mu=MU2, md=MD2, iu=IU2, id=ID2),
    dict(up=U3, dn=D3, su=SU3, sd=SD3, mu=MU3, md=MD3, iu=IU3, id=ID3),
    dict(up=U4, dn=D4, su=SU4, sd=SD4, mu=MU4, md=MD4, iu=IU4, id=ID4),
    dict(up=U5, dn=D5, su=SU5, sd=SD5, mu=MU5, md=MD5, iu=IU5, id=ID5),
    dict(up=U6, dn=D6, su=SU6, sd=SD6, mu=MU6, md=MD6, iu=IU6, id=ID6),
]
for k, pd in enumerate(panels):
    for name, arr in pd.items():
        if len(arr) != len(E):
            raise ValueError(f"panel {k+1} {name} has {len(arr)} values")

# ---------------- layout ----------------
W, H = 803, 589
FONT = "Liberation Sans, Arial, Helvetica, sans-serif"
BLACK = "#222222"
RED = "#ff1a1a"
BLUE = "#1f3cff"
GREEN = "#4a8a1c"
AX = "#333333"
cols = [(38, 273), (301, 536), (563, 799)]
rows = [(3, 127, 252), (311, 436, 561)]
title_x = [1.52, 1.68, 1.72, 1.83, 1.60, 1.72]

fig = go.Figure()
layout = dict(template="none", width=W, height=H, autosize=False,
              margin=dict(l=0, r=0, t=0, b=0, pad=0),
              paper_bgcolor="white", plot_bgcolor="white", showlegend=False,
              font=dict(family=FONT, color="#222", size=10))
shapes, annos = [], []

def axn(n):
    return "" if n == 1 else str(n)

base = dict(showline=True, linecolor=AX, linewidth=1, mirror=True, ticks="inside",
            ticklen=4, tickwidth=1, tickcolor=AX, showgrid=False, zeroline=False,
            automargin=False, tickfont=dict(size=8, family=FONT, color="#222"), fixedrange=True)

for p, pd in enumerate(panels):
    r, c = divmod(p, 3)
    x0, x1 = cols[c]
    t, m, b = rows[r]
    na, nb = 2 * p + 1, 2 * p + 2
    dx = [x0 / W, x1 / W]
    dyt = [1 - m / H, 1 - t / H]
    dyb = [1 - b / H, 1 - m / H]
    xa, xb = axn(na), axn(nb)
    layout["xaxis" + xa] = dict(base, domain=dx, anchor="y" + xa, range=[-3, 2],
                                tickvals=x_ticks, showticklabels=False,
                                minor=dict(ticks="inside", ticklen=3, dtick=0.5, tick0=-3, tickcolor=AX))
    layout["yaxis" + xa] = dict(base, domain=dyt, anchor="x" + xa, range=[-90, 90],
                                tickvals=top_ticks, ticktext=[str(v) for v in top_ticks],
                                ticklabelstandoff=6,
                                minor=dict(ticks="inside", ticklen=2.5, dtick=30, tick0=0, tickcolor=AX))
    layout["xaxis" + xb] = dict(base, domain=dx, anchor="y" + xb, range=[-3, 2],
                                tickvals=x_ticks, ticktext=[str(v) for v in x_ticks],
                                minor=dict(ticks="inside", ticklen=3, dtick=0.5, tick0=-3, tickcolor=AX))
    layout["yaxis" + xb] = dict(base, domain=dyb, anchor="x" + xb, range=[-6, 6],
                                tickvals=bot_ticks, ticktext=[str(v) for v in bot_ticks],
                                ticklabelstandoff=6,
                                minor=dict(ticks="inside", ticklen=2.5, dtick=2, tick0=0, tickcolor=AX))

    # total DOS (spin up / spin down)
    for key in ("up", "dn"):
        fig.add_trace(go.Scatter(x=E, y=pd[key], mode="lines", xaxis="x" + xa, yaxis="y" + xa,
                                 line=dict(color=BLACK, width=1), hoverinfo="skip"))
    # PDOS: Mo, S, Ir
    for key, col in (("mu", BLUE), ("md", BLUE), ("su", RED), ("sd", RED), ("iu", GREEN), ("id", GREEN)):
        fig.add_trace(go.Scatter(x=E, y=pd[key], mode="lines", xaxis="x" + xb, yaxis="y" + xb,
                                 line=dict(color=col, width=1), hoverinfo="skip"))

    # dotted Fermi level line
    for xx in (xa, xb):
        shapes.append(dict(type="line", xref="x" + xx, yref=f"y{xx} domain", x0=0, x1=0, y0=0, y1=1,
                           line=dict(color="#444", width=1, dash="dot")))

    # panel title
    annos.append(dict(text=titles[p], xref="x" + xa, yref="y" + xa, x=title_x[p], y=68,
                      xanchor="right", yanchor="middle", showarrow=False,
                      font=dict(size=13.5, family=FONT, color="#111")))

    # Total DOS legend
    shapes.append(dict(type="line", xref=f"x{xa} domain", yref=f"y{xa} domain",
                       x0=0.67, x1=0.76, y0=0.113, y1=0.113, line=dict(color=BLACK, width=1.2)))
    annos.append(dict(text="Total DOS", xref=f"x{xa} domain", yref=f"y{xa} domain", x=0.775, y=0.113,
                      xanchor="left", yanchor="middle", showarrow=False,
                      font=dict(size=10, family=FONT, color="#222")))

    # PDOS legend
    ly = [0.245, 0.158, 0.068] if r == 0 else [0.255, 0.168, 0.08]
    lx0 = 0.77 if r == 0 else 0.75
    for (lab, col), yy in zip((("S-3p", RED), ("Mo-4d", BLUE), ("Ir-5d", GREEN)), ly):
        shapes.append(dict(type="line", xref=f"x{xb} domain", yref=f"y{xb} domain",
                           x0=lx0, x1=lx0 + 0.088, y0=yy, y1=yy, line=dict(color=col, width=1.2)))
        annos.append(dict(text=lab, xref=f"x{xb} domain", yref=f"y{xb} domain", x=lx0 + 0.098, y=yy,
                          xanchor="left", yanchor="middle", showarrow=False,
                          font=dict(size=10, family=FONT, color="#222")))

    if r == 1:
        annos.append(dict(text="Energy (eV)", xref="paper", yref="paper", x=(x0 + x1) / 2 / W,
                          y=1 - 579 / H, xanchor="center", yanchor="middle", showarrow=False,
                          font=dict(size=13, family=FONT, color="#111")))

for yc in (127, 436):
    annos.append(dict(text="DOS (States/eV)", xref="paper", yref="paper", x=12 / W, y=1 - yc / H,
                      xanchor="center", yanchor="middle", textangle=-90, showarrow=False,
                      font=dict(size=13.5, family=FONT, color="#111")))

layout["shapes"] = shapes
layout["annotations"] = annos
fig.update_layout(**layout)

# remove the browser's default 8px page margin so the figure sits at the window origin
fig.write_html("out.html", config={"displayModeBar": False, "staticPlot": True},
               post_script="document.body.style.margin='0px';document.body.style.overflow='hidden';"
                           "document.documentElement.style.overflow='hidden';")
